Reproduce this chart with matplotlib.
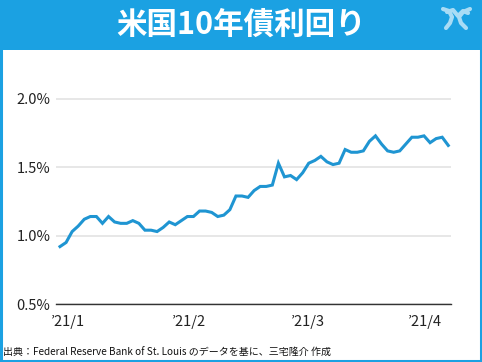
import matplotlib
matplotlib.use("Agg")
import matplotlib.pyplot as plt
from matplotlib.patches import Rectangle
from matplotlib.lines import Line2D

plt.rcParams['font.family'] = ['Noto Sans CJK JP', 'DejaVu Sans']

# 米国10年債利回り (%), 2021/1/4 ～ 2021/4 営業日ベース
yields = [0.92, 0.95, 1.03, 1.07, 1.12, 1.14, 1.14, 1.09, 1.14, 1.10,
          1.09, 1.09, 1.11, 1.09, 1.04, 1.04, 1.03, 1.06, 1.10, 1.08,
          1.11, 1.14, 1.14, 1.18, 1.18, 1.17, 1.14, 1.15, 1.19, 1.29,
          1.29, 1.28, 1.33, 1.36, 1.36, 1.37, 1.53, 1.43, 1.44, 1.41,
          1.46, 1.53, 1.55, 1.58, 1.54, 1.52, 1.53, 1.63, 1.61, 1.61,
          1.62, 1.69, 1.73, 1.67, 1.62, 1.61, 1.62, 1.67, 1.72, 1.72,
          1.73, 1.68, 1.71, 1.72, 1.66]
month_labels = ["\u201921/1", "\u201921/2", "\u201921/3", "\u201921/4"]
month_pos = [1.3, 21.3, 40.9, 60.2]
y_ticks = [0.5, 1.0, 1.5, 2.0]
y_ticklabels = ["0.5%", "1.0%", "1.5%", "2.0%"]

BLUE = '#1ba1e2'
LINE = '#1f95d2'

W, H = 482, 362
fig = plt.figure(figsize=(W / 100, H / 100), dpi=100)

# タイトル帯
fig.add_artist(Rectangle((0, 1 - 50 / H), 1, 50 / H, transform=fig.transFigure,
                         facecolor=BLUE, edgecolor='none', zorder=0))
fig.text(0.5, 1 - 25 / H, "米国10年債利回り", ha='center', va='center',
         color='white', fontsize=22, fontweight='bold')

# ロゴ(簡略)
lx = lambda px: px / W
ly = lambda py: 1 - py / H
logo = '#a9dcf5'
for xs, ys in [([443, 449, 452, 450, 446], [9, 11, 17, 23, 28]),
               ([470, 463, 459, 461, 466], [9, 12, 17, 23, 28]),
               ([447, 453, 458, 463, 468], [12, 10, 16, 11, 13])]:
    fig.add_artist(Line2D([lx(v) for v in xs], [ly(v) for v in ys],
                          transform=fig.transFigure, color=logo, lw=3,
                          solid_capstyle='round', solid_joinstyle='round'))

# 外枠
fig.add_artist(Rectangle((0.002, 0.003), 0.996, 0.994, transform=fig.transFigure,
                         facecolor='none', edgecolor=BLUE, lw=2.2, zorder=5))

ax = fig.add_axes([56 / W, 1 - 304 / H, 395 / W, 246 / H])
ax.plot(range(len(yields)), yields, color=LINE, lw=2.2, solid_joinstyle='miter')
ax.set_xlim(-0.66, 64.45)
ax.set_ylim(0.5, 0.5 + 246 / 136.7)

ax.set_yticks(y_ticks)
ax.set_yticklabels(y_ticklabels)
ax.set_xticks(month_pos)
ax.set_xticklabels(month_labels)
ax.tick_params(axis='both', length=0, labelsize=10.5, colors='#222222')
ax.tick_params(axis='y', pad=4)
ax.tick_params(axis='x', pad=8)

for s in ['top', 'right', 'left']:
    ax.spines[s].set_visible(False)
ax.spines['bottom'].set_color('#333333')
ax.spines['bottom'].set_linewidth(1.0)
ax.yaxis.grid(True, color='#e3e3e3', lw=1.2)
ax.set_axisbelow(True)

fig.text(3 / W, 1 - 353 / H, "出典：Federal Reserve Bank of St. Louis のデータを基に、三宅隆介 作成",
         ha='left', va='center', fontsize=7.2, color='#111111')

fig.savefig("out.png", dpi=100)
